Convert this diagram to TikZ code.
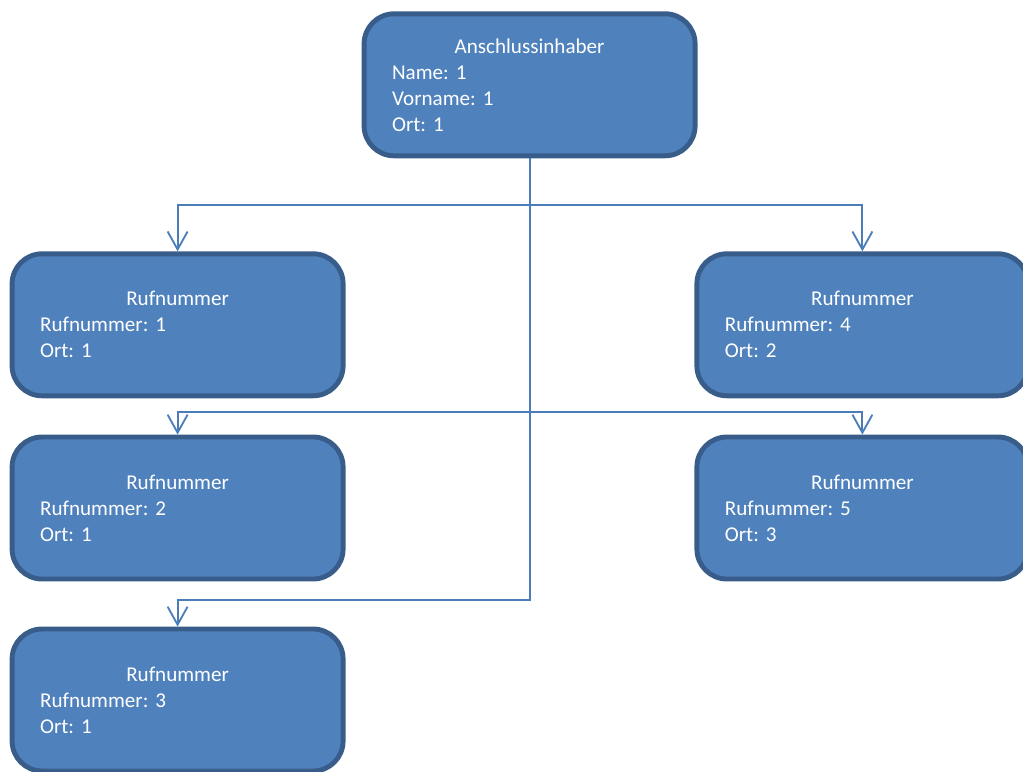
\documentclass[tikz,border=0pt]{standalone}
\usepackage{fontspec}
\setmainfont{Carlito}
\frenchspacing
\usetikzlibrary{arrows.meta}
\definecolor{boxfill}{RGB}{79,129,189}
\definecolor{boxline}{RGB}{56,93,138}
\definecolor{linkcol}{RGB}{74,126,187}

\begin{document}
\begin{tikzpicture}[
    entity/.style = {draw = boxline, fill = boxfill, line width = 3.5pt, rounded corners = 0.75cm, text = white, align = left, text width = 6.875cm, inner xsep = 0.7cm, minimum height = 3.55cm, font = \fontsize{15}{18.5}\selectfont},
    link/.style = {draw = linkcol, line width = 1.3pt, -{Straight Barb[length = 4.5mm, width = 5mm]}}
  ]
    \useasboundingbox (0,0) rectangle (25.575,-19.275);

    \node [entity] (owner) at (13.24,-2.12) {\makebox[\linewidth]{Anschlussinhaber}\\ Name: 1\\ Vorname: 1\\ Ort: 1};
    \node [entity] (nr1) at (4.44,-8.12) {\makebox[\linewidth]{Rufnummer}\\ Rufnummer: 1\\ Ort: 1};
    \node [entity] (nr2) at (4.44,-12.7) {\makebox[\linewidth]{Rufnummer}\\ Rufnummer: 2\\ Ort: 1};
    \node [entity] (nr3) at (4.44,-17.5) {\makebox[\linewidth]{Rufnummer}\\ Rufnummer: 3\\ Ort: 1};
    \node [entity] (nr4) at (21.56,-8.12) {\makebox[\linewidth]{Rufnummer}\\ Rufnummer: 4\\ Ort: 2};
    \node [entity] (nr5) at (21.56,-12.7) {\makebox[\linewidth]{Rufnummer}\\ Rufnummer: 5\\ Ort: 3};

    \coordinate (split1) at (13.24,-5.125);
    \coordinate (split2) at (13.24,-10.3);
    \coordinate (split3) at (13.24,-15);

    \draw [link] (owner.south) -- (split1) -| (nr1.north);
    \draw [link] (split1) -| (nr4.north);
    \draw [link] (split1) -- (split2) -| (nr2.north);
    \draw [link] (split2) -| (nr5.north);
    \draw [link] (split2) -- (split3) -| (nr3.north);
\end{tikzpicture}
\end{document}
